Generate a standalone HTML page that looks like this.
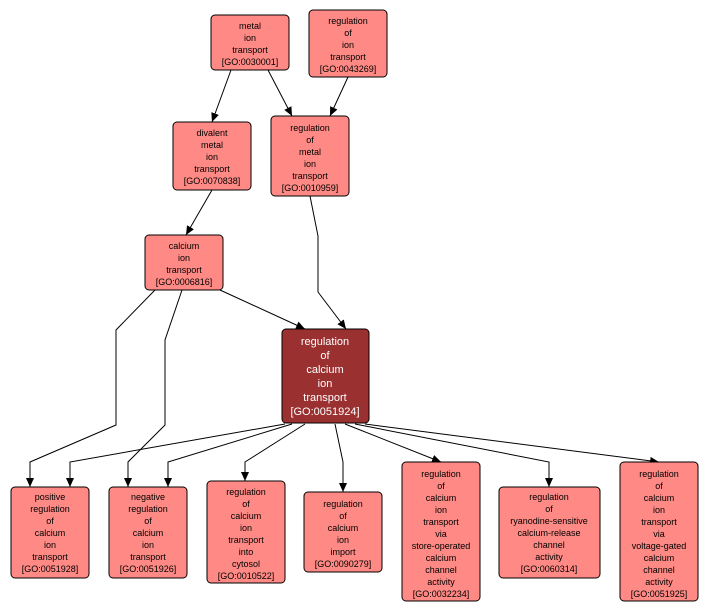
<!DOCTYPE html>
<html><head><style>body{margin:0;background:#fff}svg{display:block}</style></head><body>
<svg width="711" height="612" xmlns="http://www.w3.org/2000/svg" font-family="Liberation Sans, sans-serif">
<defs><marker id="a" markerWidth="10" markerHeight="10" refX="9" refY="5" orient="auto" markerUnits="userSpaceOnUse"><path d="M0,1 L9,5 L0,9 z" fill="#000"/></marker></defs>
<g fill="none" stroke="#000" stroke-width="1" marker-end="url(#a)">
<path d="M231,70 L212,122"/>
<path d="M268,70 L292,116"/>
<path d="M348,77 L330,116"/>
<path d="M212,190 L186,235"/>
<path d="M310,196 L318,236 L318,292 L346,329"/>
<path d="M220,290 L305,329"/>
<path d="M155,290 L116,330 L116,425 L30,462 L30,487"/>
<path d="M182,290 L165,340 L165,425 L128,462 L128,487"/>
<path d="M285,424 L70,462 L70,487"/>
<path d="M292,424 L168,462 L168,487"/>
<path d="M305,424 L245,462 L245,481"/>
<path d="M335,424 L343,462 L343,492"/>
<path d="M345,424 L441,462"/>
<path d="M355,424 L549,462 L549,487"/>
<path d="M365,424 L659,462"/>
</g>
<g stroke="#000" stroke-width="1" fill="#ff8a85">
<rect x="211" y="15" width="78" height="55" rx="4"/>
<rect x="309" y="10" width="78" height="67" rx="4"/>
<rect x="173" y="122" width="78" height="68" rx="4"/>
<rect x="271" y="116" width="78" height="80" rx="4"/>
<rect x="145" y="235" width="78" height="55" rx="4"/>
<rect x="282" y="329" width="87" height="94" rx="4" fill="#9b3030"/>
<rect x="11" y="487" width="78" height="91" rx="4"/>
<rect x="109" y="487" width="78" height="91" rx="4"/>
<rect x="207" y="481" width="78" height="102" rx="4"/>
<rect x="304" y="492" width="78" height="80" rx="4"/>
<rect x="402" y="462" width="78" height="139" rx="4"/>
<rect x="499" y="487" width="101" height="91" rx="4"/>
<rect x="620" y="462" width="78" height="139" rx="4"/>
</g>
<g font-size="9" text-anchor="middle" fill="#000">
<text x="250" y="29">metal</text><text x="250" y="41">ion</text><text x="250" y="53">transport</text><text x="250" y="65">[GO:0030001]</text>
<text x="348" y="24">regulation</text><text x="348" y="36">of</text><text x="348" y="48">ion</text><text x="348" y="60">transport</text><text x="348" y="72">[GO:0043269]</text>
<text x="212" y="136">divalent</text><text x="212" y="148">metal</text><text x="212" y="160">ion</text><text x="212" y="172">transport</text><text x="212" y="184">[GO:0070838]</text>
<text x="310" y="131">regulation</text><text x="310" y="143">of</text><text x="310" y="155">metal</text><text x="310" y="167">ion</text><text x="310" y="179">transport</text><text x="310" y="191">[GO:0010959]</text>
<text x="184" y="249">calcium</text><text x="184" y="261">ion</text><text x="184" y="273">transport</text><text x="184" y="285">[GO:0006816]</text>
<text x="50" y="500">positive</text><text x="50" y="512">regulation</text><text x="50" y="524">of</text><text x="50" y="536">calcium</text><text x="50" y="548">ion</text><text x="50" y="560">transport</text><text x="50" y="572">[GO:0051928]</text>
<text x="148" y="500">negative</text><text x="148" y="512">regulation</text><text x="148" y="524">of</text><text x="148" y="536">calcium</text><text x="148" y="548">ion</text><text x="148" y="560">transport</text><text x="148" y="572">[GO:0051926]</text>
<text x="246" y="495">regulation</text><text x="246" y="507">of</text><text x="246" y="519">calcium</text><text x="246" y="531">ion</text><text x="246" y="543">transport</text><text x="246" y="555">into</text><text x="246" y="567">cytosol</text><text x="246" y="579">[GO:0010522]</text>
<text x="343" y="507">regulation</text><text x="343" y="519">of</text><text x="343" y="531">calcium</text><text x="343" y="543">ion</text><text x="343" y="555">import</text><text x="343" y="567">[GO:0090279]</text>
<text x="441" y="477">regulation</text><text x="441" y="489">of</text><text x="441" y="501">calcium</text><text x="441" y="513">ion</text><text x="441" y="525">transport</text><text x="441" y="537">via</text><text x="441" y="549">store-operated</text><text x="441" y="561">calcium</text><text x="441" y="573">channel</text><text x="441" y="585">activity</text><text x="441" y="597">[GO:0032234]</text>
<text x="549" y="500">regulation</text><text x="549" y="512">of</text><text x="549" y="524">ryanodine-sensitive</text><text x="549" y="536">calcium-release</text><text x="549" y="548">channel</text><text x="549" y="560">activity</text><text x="549" y="572">[GO:0060314]</text>
<text x="659" y="477">regulation</text><text x="659" y="489">of</text><text x="659" y="501">calcium</text><text x="659" y="513">ion</text><text x="659" y="525">transport</text><text x="659" y="537">via</text><text x="659" y="549">voltage-gated</text><text x="659" y="561">calcium</text><text x="659" y="573">channel</text><text x="659" y="585">activity</text><text x="659" y="597">[GO:0051925]</text>
</g>
<g font-size="11" text-anchor="middle" fill="#fff">
<text x="325" y="345">regulation</text><text x="325" y="359">of</text><text x="325" y="373">calcium</text><text x="325" y="387">ion</text><text x="325" y="401">transport</text><text x="325" y="415">[GO:0051924]</text>
</g>
</svg>
</body></html>
